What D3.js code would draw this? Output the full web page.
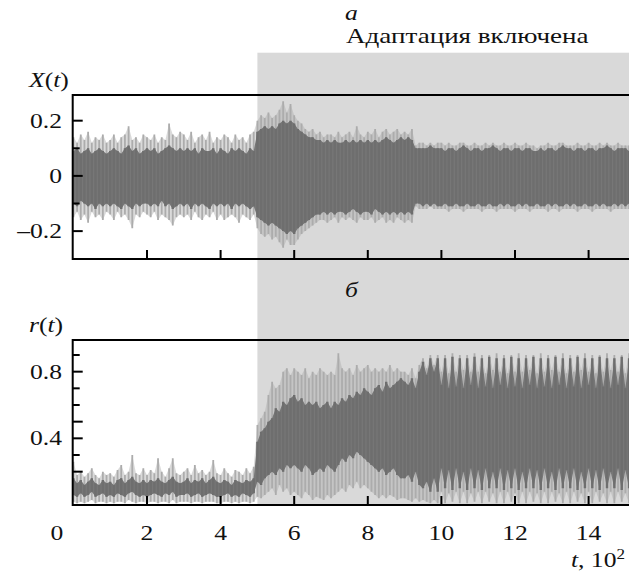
<!DOCTYPE html>
<html><head><meta charset="utf-8">
<script src="https://cdn.jsdelivr.net/npm/d3@7"></script>
<style>
html,body{margin:0;padding:0;background:#fff;}
svg{display:block;}
</style>
</head><body>
<svg id="chart" width="629" height="576"></svg>
<script>
// ---- data (sampled every 0.1 of t, units of 10^2) ----
const tStep = 0.1;
const adaptationStart = 5;
const xTickValues = [0, 2, 4, 6, 8, 10, 12, 14];
const xTickLabels = ["0", "2", "4", "6", "8", "10", "12", "14"];
const xYTicksMajor = [-0.2, 0, 0.2];
const xYTickLabels = ["\u20130.2", "0", "0.2"];
const xYTicksMinor = [-0.1, 0.1];
const rYTicksLong = [0.2, 0.4, 0.5, 0.8];
const rYTicksShort = [0.3, 0.6, 0.7, 0.9];
const rYTickLabels = ["0.4", "0.8"];
const rYTickLabelValues = [0.4, 0.8];

// X(t): dense envelope (dark core) and spikes (light)
const xHiDark = [
.09,.10,.08,.09,.10,.08,.09,.10,.09,.08,
.09,.10,.09,.08,.10,.11,.09,.10,.08,.09,
.10,.09,.10,.08,.09,.10,.11,.10,.09,.10,
.09,.10,.09,.10,.08,.10,.09,.09,.10,.08,
.10,.09,.08,.10,.09,.10,.09,.08,.10,.09,
.16,.17,.18,.17,.18,.17,.19,.20,.19,.20,
.19,.17,.16,.15,.14,.14,.13,.13,.12,.13,
.12,.13,.12,.12,.13,.12,.13,.12,.13,.12,
.13,.12,.13,.12,.13,.14,.13,.12,.13,.14,
.13,.14,.13,.10,.10,.10,.10,.11,.10,.10,
.10,.09,.10,.10,.09,.10,.11,.10,.09,.10,
.10,.09,.10,.10,.11,.10,.09,.10,.10,.09,
.10,.10,.09,.10,.10,.09,.09,.10,.09,.10,
.10,.09,.10,.11,.10,.10,.09,.10,.10,.09,
.10,.10,.09,.10,.10,.11,.10,.09,.10,.10,
.10,.09];
const xHiLight = [
.14,.12,.15,.13,.16,.12,.14,.13,.15,.12,
.13,.15,.12,.14,.15,.18,.13,.14,.12,.15,
.14,.13,.15,.12,.14,.13,.19,.15,.14,.16,
.15,.13,.16,.12,.14,.15,.13,.16,.12,.14,
.13,.15,.14,.12,.15,.13,.14,.12,.15,.16,
.20,.22,.21,.23,.21,.22,.24,.27,.23,.26,
.22,.20,.19,.17,.16,.17,.15,.16,.14,.15,
.15,.14,.16,.14,.15,.16,.14,.18,.15,.14,
.16,.15,.17,.14,.16,.17,.15,.16,.17,.15,
.16,.15,.17,.11,.12,.12,.11,.12,.11,.12,
.12,.11,.12,.11,.11,.12,.12,.11,.11,.12,
.11,.11,.12,.11,.12,.11,.11,.12,.11,.11,
.12,.11,.11,.12,.11,.11,.10,.11,.11,.12,
.11,.11,.12,.12,.11,.11,.11,.12,.11,.11,
.12,.11,.11,.12,.11,.12,.11,.11,.12,.11,
.11,.11];
const xLoDark = [
-.10,-.11,-.09,-.10,-.11,-.10,-.12,-.10,-.11,-.10,
-.11,-.10,-.11,-.12,-.10,-.11,-.12,-.10,-.11,-.10,
-.10,-.11,-.10,-.11,-.09,-.11,-.10,-.12,-.11,-.10,
-.11,-.10,-.12,-.10,-.11,-.10,-.11,-.12,-.10,-.11,
-.10,-.11,-.10,-.12,-.10,-.11,-.10,-.11,-.12,-.11,
-.15,-.16,-.17,-.18,-.17,-.18,-.19,-.20,-.21,-.20,
-.21,-.19,-.18,-.17,-.16,-.15,-.14,-.14,-.13,-.14,
-.13,-.14,-.13,-.13,-.14,-.13,-.12,-.13,-.14,-.13,
-.13,-.14,-.12,-.13,-.14,-.13,-.14,-.13,-.14,-.13,
-.14,-.13,-.14,-.10,-.10,-.11,-.10,-.11,-.10,-.11,
-.11,-.10,-.11,-.11,-.10,-.11,-.11,-.10,-.11,-.11,
-.10,-.11,-.11,-.10,-.11,-.11,-.10,-.11,-.10,-.11,
-.11,-.10,-.11,-.10,-.11,-.11,-.10,-.11,-.11,-.10,
-.11,-.10,-.11,-.11,-.10,-.11,-.10,-.11,-.11,-.10,
-.11,-.11,-.10,-.11,-.10,-.11,-.11,-.10,-.11,-.10,
-.11,-.10];
const xLoLight = [
-.15,-.13,-.16,-.14,-.17,-.13,-.15,-.14,-.16,-.13,
-.14,-.16,-.13,-.15,-.14,-.16,-.19,-.14,-.15,-.13,
-.14,-.15,-.13,-.16,-.14,-.15,-.16,-.18,-.15,-.14,
-.15,-.14,-.16,-.13,-.15,-.16,-.14,-.15,-.13,-.16,
-.14,-.16,-.15,-.14,-.15,-.17,-.14,-.15,-.16,-.14,
-.19,-.21,-.22,-.21,-.23,-.22,-.24,-.26,-.23,-.25,
-.25,-.23,-.21,-.20,-.19,-.18,-.17,-.16,-.16,-.17,
-.16,-.15,-.17,-.15,-.16,-.15,-.16,-.17,-.15,-.16,
-.16,-.15,-.17,-.16,-.15,-.17,-.16,-.17,-.15,-.16,
-.17,-.16,-.17,-.11,-.12,-.12,-.12,-.11,-.12,-.12,
-.12,-.12,-.13,-.12,-.12,-.12,-.13,-.12,-.12,-.12,
-.12,-.13,-.12,-.12,-.12,-.13,-.12,-.12,-.12,-.12,
-.13,-.12,-.12,-.12,-.13,-.12,-.12,-.12,-.12,-.13,
-.12,-.12,-.13,-.12,-.12,-.12,-.12,-.13,-.12,-.12,
-.12,-.13,-.12,-.12,-.12,-.12,-.13,-.12,-.12,-.12,
-.12,-.12];

// r(t)
const rHiDark = [
.16,.13,.15,.12,.14,.16,.13,.12,.15,.13,
.14,.12,.15,.16,.13,.15,.17,.14,.13,.15,
.13,.15,.14,.16,.14,.13,.15,.17,.14,.13,
.14,.16,.13,.15,.14,.16,.13,.15,.17,.14,
.13,.15,.14,.12,.15,.14,.13,.15,.14,.16,
.38,.44,.46,.50,.52,.58,.56,.62,.60,.64,
.66,.62,.64,.60,.62,.60,.62,.58,.60,.62,
.58,.62,.60,.64,.62,.66,.64,.68,.66,.70,
.68,.66,.70,.72,.68,.74,.70,.72,.74,.76,
.74,.72,.76,.70,.80,.86,.78,.88,.80,.88,
.72,.88,.70,.89,.71,.88,.70,.88,.72,.89,
.70,.88,.71,.89,.70,.88,.72,.88,.70,.89,
.71,.88,.70,.88,.72,.89,.70,.88,.71,.88,
.70,.89,.72,.88,.70,.88,.71,.89,.70,.88,
.72,.88,.70,.89,.71,.88,.70,.88,.72,.89,
.70,.88];
const rHiLight = [
.26,.18,.20,.17,.19,.22,.18,.16,.20,.18,
.19,.17,.21,.24,.18,.20,.30,.19,.18,.22,
.18,.21,.19,.28,.20,.17,.22,.28,.19,.18,
.20,.22,.18,.24,.19,.21,.18,.20,.27,.19,
.18,.22,.19,.17,.21,.20,.18,.22,.19,.23,
.48,.52,.56,.66,.74,.70,.72,.80,.82,.78,
.82,.80,.78,.82,.76,.80,.78,.82,.80,.78,
.80,.78,.91,.82,.80,.82,.78,.84,.80,.82,
.84,.80,.82,.80,.82,.80,.84,.80,.82,.80,
.80,.78,.82,.76,.84,.88,.82,.90,.84,.90,
.80,.90,.79,.91,.80,.90,.81,.90,.80,.91,
.80,.90,.79,.90,.81,.91,.80,.90,.79,.90,
.80,.91,.80,.90,.81,.90,.79,.91,.80,.90,
.81,.90,.80,.91,.79,.90,.80,.90,.81,.91,
.80,.90,.79,.90,.80,.91,.81,.90,.80,.90,
.79,.91];
const rLoDark = [
.06,.05,.07,.05,.06,.08,.05,.06,.07,.05,
.06,.05,.07,.06,.05,.07,.08,.06,.05,.06,
.05,.06,.07,.06,.05,.07,.06,.08,.05,.06,
.06,.07,.05,.06,.07,.05,.06,.07,.06,.05,
.05,.06,.07,.05,.06,.05,.07,.06,.05,.07,
.14,.12,.16,.18,.20,.18,.22,.20,.24,.22,
.24,.22,.20,.24,.22,.18,.20,.22,.20,.24,
.22,.20,.24,.28,.26,.30,.28,.32,.30,.28,
.26,.24,.22,.20,.22,.18,.20,.22,.18,.16,
.16,.18,.14,.20,.12,.10,.14,.08,.16,.08,
.22,.10,.21,.09,.22,.10,.20,.09,.22,.10,
.21,.09,.22,.10,.20,.10,.22,.09,.21,.10,
.22,.09,.20,.10,.22,.10,.21,.09,.22,.10,
.20,.09,.22,.10,.21,.10,.22,.09,.20,.10,
.22,.10,.21,.09,.22,.10,.20,.10,.22,.09,
.21,.10];
const rLoLight = [
.02,.01,.02,.01,.02,.03,.01,.02,.02,.01,
.02,.01,.02,.02,.01,.03,.02,.01,.02,.02,
.01,.02,.02,.01,.02,.02,.01,.03,.01,.02,
.02,.02,.01,.02,.02,.01,.02,.02,.02,.01,
.01,.02,.02,.01,.02,.01,.02,.02,.01,.02,
.05,.04,.06,.08,.10,.06,.12,.08,.10,.06,
.08,.06,.04,.08,.06,.03,.05,.04,.03,.06,
.04,.06,.08,.10,.08,.12,.10,.14,.10,.12,
.10,.08,.06,.04,.06,.04,.06,.05,.03,.04,
.04,.03,.02,.04,.02,.03,.02,.01,.03,.01,
.08,.01,.07,.02,.08,.01,.08,.01,.07,.02,
.08,.01,.08,.02,.07,.01,.08,.01,.08,.02,
.07,.01,.08,.01,.08,.02,.07,.01,.08,.01,
.08,.02,.07,.01,.08,.01,.08,.02,.07,.01,
.08,.01,.08,.02,.07,.01,.08,.01,.08,.02,
.07,.01];

const times = xHiDark.map((_, i) => +(i * tStep).toFixed(1));

// ---- layout ----
const FONT = "'Liberation Serif', 'DejaVu Serif', 'Times New Roman', serif";
const SX = 1.22; // horizontal stretch of lettering in the reference
const svg = d3.select("#chart");
const frameLeft = 72.7, frameRight = 632;
const x = d3.scaleLinear().domain([0, 15]).range([73.4, 625.4]);
const yTop = d3.scaleLinear().domain([-0.301, 0.293]).range([259, 95]);
const yBot = d3.scaleLinear().domain([0, 0.99]).range([505, 340]);

const cDark = "#6e6e6e", cDarkFill = "#777777", cLight = "#acacac", cShade = "#d9d9d9";

svg.append("rect")
  .attr("x", x(adaptationStart)).attr("y", 52.7)
  .attr("width", 629 - x(adaptationStart)).attr("height", yBot(0) - 52.7)
  .attr("fill", cShade);

function panel(id, y, hiL, loL, hiD, loD, top, bottom) {
  const clipId = "clip-" + id;
  svg.append("clipPath").attr("id", clipId).append("rect")
    .attr("x", frameLeft).attr("y", top).attr("width", frameRight - frameLeft).attr("height", bottom - top);
  const g = svg.append("g").attr("clip-path", `url(#${clipId})`);
  const rows = times.map((t, i) => ({t, hl: hiL[i], ll: loL[i], hd: hiD[i], ld: loD[i]}));
  // faint fuzz between spike tips
  g.append("path").datum(rows)
    .attr("fill", cLight).attr("fill-opacity", 0.45)
    .attr("d", d3.area().x(d => x(d.t)).y0(d => y(d.ll)).y1(d => y(d.hl)));
  // light spikes as thin vertical strokes
  g.append("g").selectAll("line").data(rows).join("line")
    .attr("x1", d => x(d.t)).attr("x2", d => x(d.t))
    .attr("y1", d => y(d.ll)).attr("y2", d => y(d.hl))
    .attr("stroke", cLight).attr("stroke-width", 1.8);
  // dense core
  g.append("path").datum(rows)
    .attr("fill", cDarkFill)
    .attr("d", d3.area().x(d => x(d.t)).y0(d => y(d.ld)).y1(d => y(d.hd)));
  g.append("g").selectAll("line").data(rows).join("line")
    .attr("x1", d => x(d.t)).attr("x2", d => x(d.t))
    .attr("y1", d => y(d.ld)).attr("y2", d => y(d.hd))
    .attr("stroke", cDark).attr("stroke-width", 2.4);
  svg.append("path").attr("fill", "none").attr("stroke", "#000").attr("stroke-width", 2)
    .attr("d", `M${frameRight},${top}H${frameLeft}V${bottom}H${frameRight}`);
  svg.append("g").selectAll("line").data(xTickValues.filter(v => v > 0)).join("line")
    .attr("x1", d => x(d)).attr("x2", d => x(d))
    .attr("y1", bottom).attr("y2", bottom - 9)
    .attr("stroke", "#000").attr("stroke-width", 2);
}

panel("top", yTop, xHiLight, xLoLight, xHiDark, xLoDark, 95, 259);
panel("bot", yBot, rHiLight, rLoLight, rHiDark, rLoDark, 340, 505);

function yTicks(y, vals, len) {
  svg.append("g").selectAll("line").data(vals).join("line")
    .attr("x1", frameLeft).attr("x2", frameLeft + len)
    .attr("y1", d => y(d)).attr("y2", d => y(d))
    .attr("stroke", "#000").attr("stroke-width", 2);
}
yTicks(yTop, xYTicksMajor, 10);
yTicks(yTop, xYTicksMinor, 7);
yTicks(yBot, rYTicksLong, 10);
yTicks(yBot, rYTicksShort, 7);

const fs = 21;
function txt(xp, yp, anchor, parts, sx) {
  const t = svg.append("text")
    .attr("transform", `translate(${xp},${yp}) scale(${sx || SX},1)`)
    .attr("text-anchor", anchor)
    .attr("font-family", FONT).attr("font-size", fs).attr("fill", "#111");
  parts.forEach(p => {
    const s = t.append("tspan").text(p.s);
    if (p.i) s.attr("font-style", "italic");
    if (p.sup) s.attr("font-size", 14).attr("dy", -8);
  });
  return t;
}

xYTicksMajor.forEach((v, i) => txt(62, yTop(v) + 7, "end", [{s: xYTickLabels[i]}]));
rYTickLabelValues.forEach((v, i) => txt(62, yBot(v) + 7, "end", [{s: rYTickLabels[i]}]));
xTickValues.forEach((v, i) => txt(v === 0 ? 57 : x(v), 540, "middle", [{s: xTickLabels[i]}]));

txt(29, 87, "start", [{s:"X", i:1}, {s:"("}, {s:"t", i:1}, {s:")"}]);
txt(29, 332, "start", [{s:"r", i:1}, {s:"("}, {s:"t", i:1}, {s:")"}]);
txt(625, 567, "end", [{s:"t", i:1}, {s:", 10"}, {s:"2", sup:1}]);
txt(345, 20, "start", [{s:"а", i:1}]);
txt(345, 297, "start", [{s:"б", i:1}]);
txt(346, 43, "start", [{s:"Адаптация включена"}], 1.29);
</script>
</body></html>
